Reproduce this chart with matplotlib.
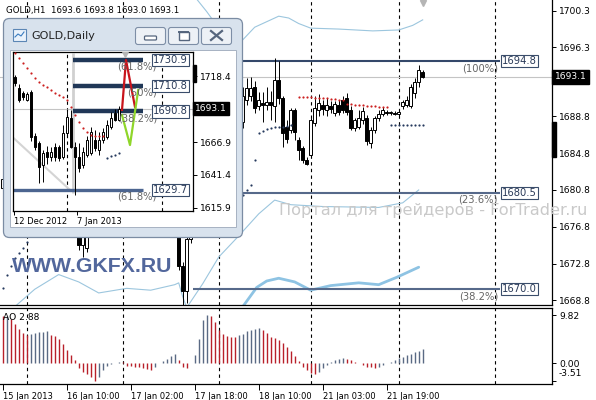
import numpy as np
import matplotlib
matplotlib.use('Agg')
import matplotlib.pyplot as plt
from matplotlib.patches import Rectangle, FancyBboxPatch
import matplotlib.transforms as mtransforms

plt.rcParams['font.family'] = ['DejaVu Sans']

# ---------------- data: GOLD H1 ----------------
h1_open = [1681.0, 1682.0, 1683.5, 1682.8, 1681.5, 1681.0, 1680.2, 1680.8, 1681.5, 1682.0,
           1681.8, 1682.3, 1681.9, 1681.0, 1680.5, 1679.8, 1679.0, 1678.2, 1677.5, 1676.5,
           1674.8, 1674.5, 1676.8, 1677.5, 1678.0, 1678.8, 1679.5, 1679.8, 1679.9, 1680.3,
           1680.1, 1679.8, 1679.4, 1679.2, 1679.0, 1678.8, 1678.5, 1678.2, 1678.5, 1679.3,
           1679.8, 1680.4, 1681.0, 1680.2, 1678.5, 1672.5, 1669.8, 1675.5, 1679.0, 1683.0,
           1687.5, 1689.0, 1690.5, 1689.5, 1688.8, 1689.5, 1690.0, 1689.2, 1689.8, 1688.5,
           1688.2, 1690.6, 1691.0, 1692.0, 1689.9, 1690.3, 1690.0, 1690.4, 1689.9, 1692.8,
           1690.8, 1687.7, 1687.3, 1689.5, 1686.2, 1685.4, 1684.1, 1684.6, 1688.1, 1689.5,
           1690.0, 1689.5, 1689.9, 1689.2, 1690.0, 1690.6, 1690.8, 1689.5, 1687.5, 1687.6,
           1688.4, 1688.6, 1685.9, 1687.3, 1688.6, 1689.1, 1689.3, 1689.2, 1689.2, 1689.1,
           1689.9, 1690.0, 1689.9, 1691.3, 1692.5, 1693.6]
h1_high = [1682.6, 1684.0, 1684.2, 1683.3, 1682.0, 1681.5, 1681.3, 1682.0, 1682.6, 1682.4,
           1682.8, 1682.5, 1682.1, 1681.3, 1680.9, 1680.1, 1679.4, 1678.6, 1677.9, 1676.9,
           1676.2, 1677.2, 1678.0, 1678.4, 1679.2, 1680.0, 1680.3, 1680.4, 1680.8, 1680.6,
           1680.4, 1680.1, 1679.8, 1679.6, 1679.3, 1679.1, 1678.8, 1678.9, 1679.6, 1680.2,
           1680.8, 1681.4, 1681.3, 1680.5, 1678.8, 1673.0, 1675.8, 1679.5, 1683.5, 1688.0,
           1689.5, 1691.0, 1691.2, 1690.0, 1690.0, 1690.5, 1690.4, 1690.3, 1690.0, 1688.9,
           1692.0, 1693.0, 1693.1, 1692.7, 1691.5, 1691.5, 1692.0, 1691.6, 1695.1, 1694.8,
           1691.0, 1688.4, 1689.7, 1689.7, 1686.6, 1685.6, 1684.4, 1688.6, 1691.0, 1691.2,
           1690.6, 1690.8, 1690.5, 1690.5, 1690.6, 1691.0, 1691.3, 1689.9, 1688.6, 1689.5,
           1689.8, 1689.0, 1687.6, 1688.8, 1689.5, 1689.8, 1689.5, 1689.4, 1689.4, 1689.4,
           1690.6, 1691.0, 1692.3, 1693.0, 1694.4, 1693.8]
h1_low = [1680.5, 1681.6, 1682.3, 1681.0, 1680.4, 1679.6, 1679.8, 1680.3, 1681.0, 1681.2,
          1681.5, 1681.4, 1680.5, 1680.0, 1679.3, 1678.5, 1677.8, 1677.0, 1676.0, 1674.3,
          1673.5, 1674.0, 1676.3, 1677.0, 1677.6, 1678.4, 1679.1, 1679.3, 1679.5, 1679.7,
          1679.4, 1679.0, 1678.8, 1678.6, 1678.4, 1678.1, 1677.7, 1677.9, 1678.2, 1679.0,
          1679.5, 1680.1, 1679.9, 1678.1, 1672.1, 1668.2, 1668.5, 1675.0, 1678.5, 1682.5,
          1686.8, 1688.5, 1689.0, 1688.2, 1688.4, 1689.0, 1688.8, 1688.9, 1688.0, 1687.6,
          1687.5, 1690.0, 1690.5, 1689.2, 1689.5, 1688.2, 1689.5, 1688.4, 1688.2, 1690.2,
          1685.5, 1685.9, 1687.0, 1686.2, 1684.1, 1683.7, 1683.5, 1684.4, 1687.8, 1688.8,
          1689.0, 1688.8, 1689.2, 1688.8, 1688.9, 1689.2, 1688.9, 1687.3, 1687.2, 1687.4,
          1688.0, 1685.7, 1685.4, 1687.0, 1688.3, 1688.8, 1689.0, 1689.0, 1688.9, 1688.8,
          1689.6, 1689.8, 1689.7, 1690.8, 1692.0, 1693.0]
h1_close = [1682.0, 1683.5, 1682.8, 1681.5, 1681.0, 1680.2, 1680.8, 1681.5, 1682.0, 1681.8,
            1682.3, 1681.9, 1681.0, 1680.5, 1679.8, 1679.0, 1678.2, 1677.5, 1676.5, 1674.8,
            1675.8, 1676.8, 1677.5, 1678.0, 1678.8, 1679.5, 1679.8, 1679.9, 1680.3, 1680.1,
            1679.8, 1679.4, 1679.2, 1679.0, 1678.8, 1678.5, 1678.2, 1678.5, 1679.3, 1679.8,
            1680.4, 1681.0, 1680.2, 1678.5, 1672.5, 1669.8, 1675.5, 1679.0, 1683.0, 1687.5,
            1689.0, 1690.5, 1689.5, 1688.8, 1689.5, 1690.0, 1689.2, 1689.8, 1688.5, 1688.2,
            1691.0, 1691.9, 1691.9, 1689.7, 1690.6, 1690.0, 1690.4, 1690.0, 1692.8, 1690.8,
            1687.0, 1686.3, 1689.5, 1687.1, 1685.2, 1684.1, 1683.6, 1688.4, 1689.7, 1690.3,
            1689.6, 1690.0, 1689.6, 1690.2, 1689.3, 1689.5, 1689.3, 1687.5, 1688.4, 1688.6,
            1689.4, 1686.1, 1687.3, 1688.6, 1689.1, 1689.5, 1689.2, 1689.2, 1689.1, 1689.3,
            1690.4, 1690.6, 1692.0, 1692.5, 1693.8, 1693.1]

ao_values = [9.6, 9.7, 9.0, 8.0, 7.0, 6.1, 5.7, 5.9, 6.1, 6.3,
             6.4, 6.5, 5.7, 5.5, 5.0, 4.0, 2.8, 1.7, 0.7, -0.9,
             -1.7, -2.1, -2.7, -3.51, -2.8, -1.3, -0.5, -0.1, 0.1, 0.3,
             0.2, -0.5, -0.6, -0.7, -0.8, -1.0, -1.2, -1.3, -0.7, 0.1,
             0.5, 1.0, 1.5, 2.0, 0.8, -0.7, -1.0, 0.1, 1.7, 5.0,
             8.8, 9.82, 9.7, 8.5, 6.8, 6.0, 5.5, 5.4, 5.3, 5.7,
             6.0, 6.5, 6.8, 7.0, 7.1, 6.8, 6.1, 5.3, 5.2, 4.8,
             4.1, 3.3, 2.5, 1.5, 0.5, -0.7, -1.3, -1.9, -2.1, -1.7,
             -1.0, -0.3, 0.3, 0.8, 1.0, 1.1, 1.0, 0.7, 0.3, 0.0,
             -0.3, -0.7, -0.8, -0.9, -0.7, -0.3, 0.1, 0.3, 0.7, 1.1,
             1.3, 1.7, 1.9, 2.3, 2.6, 2.88]

# Parabolic SAR dots (bar index, price)
sar_blue_bars = [0, 1, 2, 3, 4, 5, 6, 60, 61, 62, 63, 64, 65, 66, 67, 68, 69, 70, 71, 72,
                 97, 98, 99, 100, 101, 102, 103, 104, 105]
sar_blue_vals = [1670.1, 1671.5, 1672.5, 1673.4, 1673.9, 1674.5, 1675.1, 1680.2, 1680.8, 1681.3,
                 1684.1, 1687.0, 1687.2, 1687.4, 1687.5, 1687.6, 1687.7, 1687.7, 1687.8, 1687.9,
                 1687.9, 1687.9, 1687.9, 1687.9, 1687.9, 1687.9, 1687.9, 1687.9, 1687.9]
sar_red_bars = [74, 75, 76, 77, 78, 79, 80, 81, 82, 83, 84, 85,
                86, 87, 88, 89, 90, 91, 92, 93, 94, 95, 96]
sar_red_vals = [1690.9, 1690.9, 1690.9, 1690.9, 1690.8, 1690.8, 1690.8, 1690.8, 1690.7, 1690.7, 1690.6, 1690.6,
                1690.1, 1690.1, 1690.0, 1690.0, 1690.0, 1689.9, 1689.9, 1689.9, 1689.8, 1689.8, 1689.8]

# envelope / band lines (bar index, price)
upper_band_bars = [47, 48.6, 51, 54, 57, 59.3, 63, 67, 69, 71.5, 74, 77, 84, 92.5, 99, 102.5, 105]
upper_band_vals = [1703.0, 1701.5, 1700.2, 1698.4, 1697.2, 1696.8, 1698.5, 1699.3, 1699.7, 1699.5,
                   1698.9, 1698.4, 1698.3, 1698.1, 1698.2, 1698.7, 1699.3]
lower_band_bars = [0, 3, 8, 14, 19, 24, 31, 37, 43, 44, 45, 46, 50, 54, 59, 64, 68, 72, 80, 94, 100, 104]
lower_band_vals = [1666.8, 1668.1, 1670.0, 1671.6, 1670.8, 1669.6, 1670.1, 1669.9, 1670.5, 1670.7,
                   1669.2, 1668.0, 1670.6, 1673.5, 1675.8, 1678.2, 1679.7, 1679.2, 1679.0, 1678.9,
                   1679.4, 1680.8]
thick_band_bars = [59, 60, 63.5, 66, 69, 73, 77, 82, 89, 94, 98.5, 104]
thick_band_vals = [1667.0, 1668.1, 1670.2, 1670.9, 1671.2, 1670.8, 1669.9, 1670.4, 1670.7, 1670.5, 1671.3, 1672.4]

fib_levels = [1694.8, 1680.5, 1670.0]
fib_pct = ['(100%)', '(23.6%)', '(38.2%)']
fib_start_bar = [0, 0, 47.5]
fib_end_bar = 124.2

bid_price = 1693.1
separator_bars = [6, 30, 54, 77, 99, 123]
time_tick_bars = [0, 16, 32, 48, 64, 80, 96]
time_tick_labels = ['15 Jan 2013', '16 Jan 10:00', '17 Jan 02:00', '17 Jan 18:00',
                    '18 Jan 10:00', '21 Jan 03:00', '21 Jan 19:00']
price_ticks = [1700.3, 1696.3, 1688.8, 1684.8, 1680.8, 1676.8, 1672.8, 1668.8]
ao_ticks = [9.82, 0.00, -3.51]
scale_bar_main = (1684.4, 1688.2)

# ---------------- data: GOLD Daily (inset) ----------------
d1_open = [1717.9, 1708.8, 1704.9, 1700.0, 1706.2, 1671.5, 1666.0, 1649.1, 1659.5, 1655.6,
           1663.4, 1663.0, 1655.6, 1673.8, 1685.5, 1663.4, 1655.6, 1649.1, 1657.0, 1658.3,
           1668.6, 1660.8, 1668.6, 1671.2, 1679.0, 1689.4, 1684.5]
d1_high = [1719.5, 1712.0, 1707.0, 1706.0, 1707.5, 1674.0, 1668.0, 1661.0, 1664.0, 1663.0,
           1666.0, 1665.0, 1680.0, 1693.0, 1692.0, 1667.0, 1666.0, 1663.0, 1672.0, 1679.0,
           1676.0, 1675.0, 1678.0, 1684.0, 1690.0, 1693.0, 1694.8]
d1_low = [1711.0, 1698.5, 1700.0, 1699.0, 1668.0, 1661.0, 1634.9, 1636.2, 1650.0, 1652.0,
          1652.0, 1652.0, 1654.0, 1671.0, 1662.0, 1625.8, 1644.0, 1646.6, 1655.0, 1657.0,
          1660.0, 1657.0, 1666.0, 1669.0, 1677.0, 1683.0, 1683.5]
d1_close = [1712.7, 1699.7, 1702.3, 1704.5, 1671.2, 1663.4, 1647.8, 1658.3, 1655.6, 1659.5,
            1655.6, 1654.3, 1673.8, 1686.7, 1663.4, 1655.6, 1646.6, 1659.5, 1668.6, 1675.1,
            1662.1, 1668.6, 1675.1, 1680.3, 1685.5, 1684.2, 1693.1]
d1_sar_red = [1736.1, 1732.2, 1728.3, 1724.4, 1720.5, 1716.6, 1714.0, 1711.4, 1709.6, 1707.5,
              1705.4, 1703.6, 1702.3, 1699.7, 1694.5, 1688.0, 1682.8, 1677.7, 1675.1, 1672.5,
              1671.7, 1671.7, 1671.7]
d1_sar_blue_slots = [23, 24, 25, 26]
d1_sar_blue = [1654.6, 1655.8, 1657.0, 1658.2]
d1_fib_levels = [1730.9, 1710.8, 1690.8, 1629.7]
d1_fib_pct = ['(61.8%)', '(50%)', '(38.2%)', '(61.8%)']
d1_fib_start = [14.5, 14.5, 14.5, -0.5]
d1_fib_end = 32.0
d1_red_path_x = [26.75, 27.75, 30.0]
d1_red_path_y = [1692.0, 1730.9, 1694.3]
d1_green_path_x = [26.75, 28.75, 30.8]
d1_green_path_y = [1688.0, 1664.7, 1707.5]
d1_separators = [13.0, 36.75]
d1_price_ticks = [1718.4, 1666.9, 1641.4, 1615.9]
d1_date_ticks = [-0.25, 15.5]
d1_date_labels = ['12 Dec 2012', '7 Jan 2013']
d1_scale_bar = (1713.7, 1727.0)

# ---------------- layout ----------------
W, H = 596, 400
def fr(x, y, w, h):
    return [x / W, 1 - (y + h) / H, w / W, h / H]

fig = plt.figure(figsize=(W / 100, H / 100), dpi=100)
fig.patch.set_facecolor('white')

BULL_FC, INK = 'white', 'black'
RED, NAVY = '#cc2020', '#25395e'
TICK_FS = 6.6
DATE_FS = 6.0

def candles(ax, x, o, h, l, c, width=0.7, lw=0.7):
    x = np.asarray(x, float); o = np.asarray(o); h = np.asarray(h)
    l = np.asarray(l); c = np.asarray(c)
    ax.vlines(x, l, h, color=INK, lw=lw, zorder=3)
    up = c >= o
    body = np.where(np.abs(c - o) < 0.05, 0.05, c - o)
    ax.bar(x[up], body[up], bottom=o[up], width=width, color=BULL_FC,
           edgecolor=INK, linewidth=lw, zorder=4)
    ax.bar(x[~up], body[~up], bottom=o[~up], width=width, color=INK,
           edgecolor=INK, linewidth=lw, zorder=4)

# ---- main H1 chart ----
ax = fig.add_axes(fr(0, 0, 552, 305))
n = len(h1_close)
bars = np.arange(n)
ax.set_xlim(-0.675, 137.325)
ax.set_ylim(1668.29, 1701.46)
for sp in ['left', 'top']:
    ax.spines[sp].set_visible(False)
for sp in ['right', 'bottom']:
    ax.spines[sp].set_linewidth(0.9)
ax.set_xticks([])
ax.yaxis.tick_right()
ax.set_yticks(price_ticks)
ax.set_yticklabels([f'{v:.1f}' for v in price_ticks])
ax.tick_params(axis='y', labelsize=TICK_FS, length=3, width=0.7, pad=2)

for b in separator_bars:
    ax.axvline(b, color='black', lw=0.8, ls=(0, (3, 3)), zorder=1)
ax.axhline(bid_price, color='#c4c4c4', lw=0.8, zorder=1)

ax.plot(upper_band_bars, upper_band_vals, color='#9cc6de', lw=0.8, zorder=2)
ax.plot(lower_band_bars, lower_band_vals, color='#9cc6de', lw=0.8, zorder=2)
ax.plot(thick_band_bars, thick_band_vals, color='#8ec3e3', lw=2.0, zorder=2,
        solid_capstyle='round')

candles(ax, bars, h1_open, h1_high, h1_low, h1_close)

ax.scatter(sar_blue_bars, sar_blue_vals, s=2.5, color=NAVY, zorder=5, linewidths=0)
ax.scatter(sar_red_bars, sar_red_vals, s=2.5, color=RED, zorder=5, linewidths=0)

fib_colors = ['#34486a', '#56698a', '#56698a']
for lev, pct, st, col in zip(fib_levels, fib_pct, fib_start_bar, fib_colors):
    ax.hlines(lev, st, fib_end_bar, color=col, lw=1.5, zorder=2)
    ax.text(fib_end_bar + 0.6, lev, f'{lev:.1f}', fontsize=7.2, color='#2a3a58',
            va='center', ha='left', zorder=6,
            bbox=dict(boxstyle='square,pad=0.12', fc='white', ec='#3a4d6b', lw=0.8))
    ax.annotate(pct, (fib_end_bar - 0.4, lev), xytext=(0, -1.5), textcoords='offset points',
                fontsize=7.2, color='#666666', ha='right', va='top', zorder=6)

ax.plot([105], [1701.1], marker='v', color='#b5b5b5', ms=5, zorder=6, clip_on=False)

trans_main = mtransforms.blended_transform_factory(ax.transAxes, ax.transData)
ax.add_patch(Rectangle((1.0, scale_bar_main[0]), 4 / 552, scale_bar_main[1] - scale_bar_main[0],
                       transform=trans_main, color='black', clip_on=False, zorder=6))
ax.text(1.005, bid_price, f'{bid_price:.1f}', transform=trans_main, fontsize=TICK_FS,
        color='white', va='center', ha='left', zorder=7,
        bbox=dict(boxstyle='square,pad=0.25', fc='black', ec='black'))

# ---- AO panel ----
ax2 = fig.add_axes(fr(0, 308, 552, 76))
ax2.set_xlim(-0.675, 137.325)
ax2.set_ylim(-4.16, 11.24)
ax2.spines['left'].set_visible(False)
for sp in ['right', 'bottom', 'top']:
    ax2.spines[sp].set_linewidth(0.9)
ao = np.asarray(ao_values)
ao_cols = ['#b8202a'] + ['#5a6a84' if ao[i] > ao[i - 1] else '#b8202a' for i in range(1, len(ao))]
ax2.vlines(np.arange(len(ao)), 0, ao, colors=ao_cols, lw=1.0, zorder=3)
for b in separator_bars:
    ax2.axvline(b, color='black', lw=0.8, ls=(0, (3, 3)), zorder=1)
ax2.yaxis.tick_right()
ax2.set_yticks(ao_ticks)
ax2.set_yticklabels([f'{v:.2f}' for v in ao_ticks])
ax2.tick_params(axis='y', labelsize=TICK_FS, length=3, width=0.7, pad=2)
# MT4 lifts the minimum label off the bottom edge
lowlab = ax2.get_yticklabels()[2]
lowlab.set_transform(lowlab.get_transform() +
                     mtransforms.ScaledTranslation(0, 8 / 100, fig.dpi_scale_trans))
ax2.set_xticks(time_tick_bars)
ax2.set_xticklabels(time_tick_labels)
ax2.tick_params(axis='x', labelsize=DATE_FS, length=4, width=0.7, pad=1.5)
for t in ax2.get_xticklabels():
    t.set_horizontalalignment('left')
ax2.text(0.006, 0.93, f'AO {ao_values[-1]:.2f}', transform=ax2.transAxes, fontsize=6.6,
         va='top', ha='left')

# ---- overlay: window frame, watermarks ----
ov = fig.add_axes([0, 0, 1, 1], zorder=5)
ov.set_xlim(0, W)
ov.set_ylim(H, 0)
ov.axis('off')
ov.patch.set_alpha(0)

fig.text(6 / W, 1 - 10 / H, 'GOLD,H1  1693.6 1693.8 1693.0 1693.1', fontsize=6.2,
         va='center', ha='left', zorder=8)
ov.text(12, 267, 'WWW.GKFX.RU', fontsize=15.3, fontweight='bold', color='#52679c',
        va='center', ha='left', family='Liberation Sans')
ov.text(279, 210, 'Портал для трейдеров - ForTrader.ru', fontsize=11.6, color='#c9c9c9',
        va='center', ha='left')

ov.add_patch(FancyBboxPatch((3.5, 18.5), 239, 219, boxstyle='round,pad=0,rounding_size=6',
                            fc='#d8e2ed', ec='#7b8ca3', lw=0.9))
ov.add_patch(Rectangle((9.5, 49.5), 226, 177, fc='white', ec='#a6b2c2', lw=0.7))
# icon
ov.add_patch(Rectangle((12.5, 28.5), 13, 12, fc='#eaf2fb', ec='#5b86b5', lw=0.8))
ov.plot([15, 18, 21, 24], [37, 34, 36, 32], color='#3a7cc0', lw=0.8)
ov.text(31, 36, 'GOLD,Daily', fontsize=8.0, va='center', ha='left', color='#222222')
for bx in [135.5, 168.5, 201.5]:
    ov.add_patch(FancyBboxPatch((bx, 27.5), 30, 17, boxstyle='round,pad=0,rounding_size=2.5',
                                fc='#edf1f6', ec='#7d8ea6', lw=0.8))
ov.add_patch(FancyBboxPatch((144.5, 36), 12, 4, boxstyle='round,pad=0,rounding_size=1',
                            fc='white', ec='#55657d', lw=0.9))
ov.add_patch(Rectangle((178.5, 31.5), 10, 8, fc='white', ec='#55657d', lw=1.0))
ov.plot([179, 188], [32.3, 32.3], color='#55657d', lw=1.4)
ov.plot([211, 222], [31, 40], color='#55657d', lw=1.6)
ov.plot([222, 211], [31, 40], color='#55657d', lw=1.6)

# ---- inset daily chart ----
ax3 = fig.add_axes(fr(13, 52, 180, 159), zorder=6)
ax3.set_xlim(-0.5, 44.5)
ax3.set_ylim(1613.34, 1737.08)
for sp in ax3.spines.values():
    sp.set_linewidth(0.9)
nd = len(d1_close)
slots = np.arange(nd)
for s in d1_separators:
    ax3.axvline(s, color='black', lw=0.8, ls=(0, (3, 3)), zorder=1)
ax3.axhline(bid_price, color='#c4c4c4', lw=0.8, zorder=1)
ax3.plot([-0.5, 14.0], [1670.5, 1629.0], color='#d4d4d4', lw=1.5, zorder=1)
ax3.vlines(14.5, 1627.0, 1736.0, color='#d0d0d0', lw=2.0, zorder=1)

for lev, st in zip(d1_fib_levels[:3], d1_fib_start[:3]):
    ax3.hlines(lev, st, d1_fib_end, color='#203757', lw=3.2, zorder=2)
ax3.hlines(d1_fib_levels[3], d1_fib_start[3], d1_fib_end, color='#4c6590', lw=2.4, zorder=2)

candles(ax3, slots, d1_open, d1_high, d1_low, d1_close)

ax3.scatter(np.arange(len(d1_sar_red)), d1_sar_red, s=2.5, color=RED, zorder=5, linewidths=0)
ax3.scatter(d1_sar_blue_slots, d1_sar_blue, s=2.5, color=NAVY, zorder=5, linewidths=0)
ax3.plot(d1_red_path_x, d1_red_path_y, color='#c8141c', lw=1.6, zorder=5)
ax3.plot(d1_green_path_x, d1_green_path_y, color='#8fd62a', lw=1.6, zorder=5)
ax3.plot([27.5], [1735.5], marker='v', color='#b5b5b5', ms=5, zorder=6)

for lev, pct in zip(d1_fib_levels, d1_fib_pct):
    ax3.text(d1_fib_end + 2.5, lev, f'{lev:.1f}', fontsize=7.2, color='#2a3a58', va='center',
             ha='left', zorder=7,
             bbox=dict(boxstyle='square,pad=0.12', fc='white', ec='#3a4d6b', lw=0.8))
    ax3.annotate(pct, (d1_fib_end + 3.5, lev), xytext=(0, -1.2), textcoords='offset points',
                 fontsize=7.2, color='#666666', ha='right', va='top', zorder=6)

ax3.yaxis.tick_right()
ax3.set_yticks(d1_price_ticks)
ax3.set_yticklabels([f'{v:.1f}' for v in d1_price_ticks])
ax3.tick_params(axis='y', labelsize=TICK_FS, length=3, width=0.7, pad=2)
ax3.set_xticks(d1_date_ticks)
ax3.set_xticklabels(d1_date_labels)
ax3.tick_params(axis='x', labelsize=DATE_FS, length=3, width=0.7, pad=1.5)
for t in ax3.get_xticklabels():
    t.set_horizontalalignment('left')
trans_d1 = mtransforms.blended_transform_factory(ax3.transAxes, ax3.transData)
ax3.add_patch(Rectangle((1.0, d1_scale_bar[0]), 3 / 180, d1_scale_bar[1] - d1_scale_bar[0],
                        transform=trans_d1, color='black', clip_on=False, zorder=6))
ax3.text(1.01, bid_price, f'{bid_price:.1f}', transform=trans_d1, fontsize=TICK_FS,
         color='white', va='center', ha='left', zorder=7,
         bbox=dict(boxstyle='square,pad=0.25', fc='black', ec='black'))

fig.savefig('out.png', dpi=100, facecolor='white')
